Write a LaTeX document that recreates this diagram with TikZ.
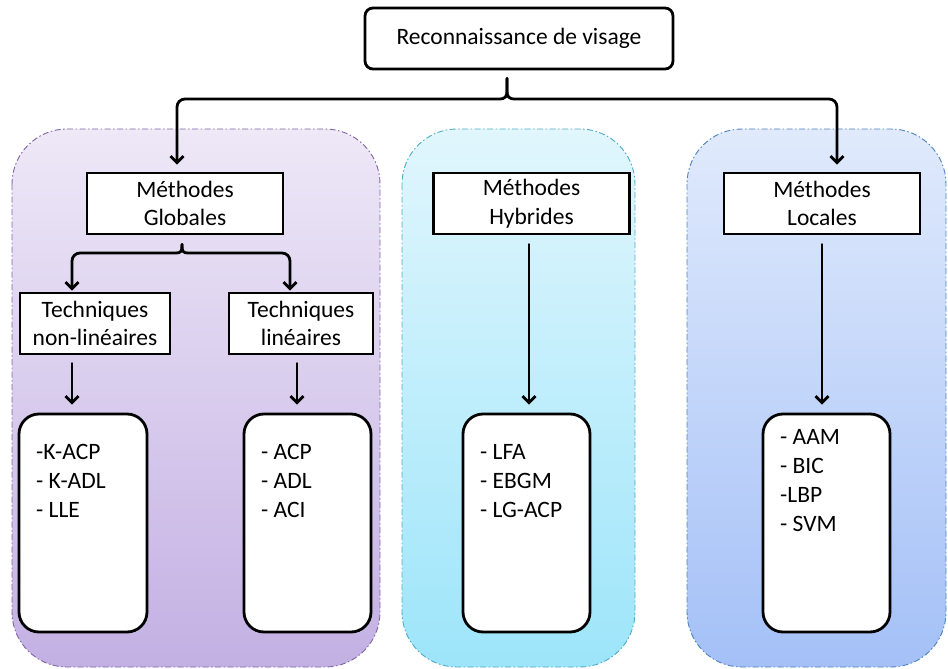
\documentclass[tikz,border=0pt]{standalone}
\usepackage{fontspec}
\setmainfont{Carlito}
\usetikzlibrary{arrows.meta,calc}
\definecolor{pTop}{HTML}{EEE8F7}
\definecolor{pBot}{HTML}{C3B0E3}
\definecolor{pEdge}{HTML}{8064A2}
\definecolor{cTop}{HTML}{E1F6FD}
\definecolor{cBot}{HTML}{9DE5FA}
\definecolor{cEdge}{HTML}{4BACC6}
\definecolor{bTop}{HTML}{E0EAFC}
\definecolor{bBot}{HTML}{A4C0F7}
\definecolor{bEdge}{HTML}{4F81BD}
\begin{document}
\begin{tikzpicture}[x=1pt,y=-1pt,
  font=\fontsize{23.5}{28.5}\selectfont,
  panel/.style={rounded corners=55pt, line width=0.9pt,
    dash pattern=on 6pt off 2.5pt on 1.5pt off 2.5pt},
  box/.style={draw=black, line width=2.8pt, fill=white, inner sep=0pt,
    minimum height=61pt, align=center},
  listbox/.style={draw=black, line width=2.8pt, fill=white, rounded corners=20pt,
    minimum width=127pt, minimum height=218pt},
  listtext/.style={anchor=base west, inner sep=0pt, font=\fontsize{23.5}{29}\selectfont},
  link/.style={line width=2.8pt, line cap=round, line join=round},
  arrowed/.style={-{Straight Barb[length=6.5pt,width=13pt]}},
]
\useasboundingbox (0,0) rectangle (948,669);

% background panels
\path[panel, top color=pTop, bottom color=pBot, draw=pEdge] (12,129) rectangle (380,667);
\path[panel, top color=cTop, bottom color=cBot, draw=cEdge] (402,129) rectangle (635,667);
\path[panel, top color=bTop, bottom color=bBot, draw=bEdge] (687,129) rectangle (946,667);

% boxes
\node[box, rounded corners=8pt, minimum width=308pt] (root) at (519,38.5) {Reconnaissance de visage};
\node[box, minimum width=196pt] (mg) at (185,203.5) {Méthodes\\Globales};
\node[box, minimum width=196pt] (mh) at (531.5,203.5) {Méthodes\\Hybrides};
\node[box, minimum width=196pt] (ml) at (822,203.5) {Méthodes\\Locales};
\node[box, minimum width=150pt] (tnl) at (95,323.5) {Techniques\\non-linéaires};
\node[box, minimum width=144pt] (tl) at (301,323.5) {Techniques\\linéaires};

\node[listbox, minimum width=128pt] (lnl) at (83,523) {};
\node[listbox] (ll) at (307.5,523) {};
\node[listbox] (lh) at (526.5,523) {};
\node[listbox] (lloc) at (826.5,523) {};

% list contents
\node[listtext] (tnlx) at (36,459) {\begin{tabular}[t]{@{}l@{}}-K-ACP\\- K-ADL\\- LLE\end{tabular}};
\node[listtext] (tlx) at (261,459) {\begin{tabular}[t]{@{}l@{}}- ACP\\- ADL\\- ACI\end{tabular}};
\node[listtext] (lhx) at (480,459) {\begin{tabular}[t]{@{}l@{}}- LFA\\- EBGM\\- LG-ACP\end{tabular}};
\node[listtext] (llocx) at (780,444) {\begin{tabular}[t]{@{}l@{}}- AAM\\- BIC\\-LBP\\- SVM\end{tabular}};

% brace under the root box
\coordinate (bt) at ($(root.south)+(-12,8)$);
\draw[link,arrowed] (bt) -- (507,89) .. controls (507,97) and (506,99) .. (498,99)
  [rounded corners=8pt] -| ($(mg.north)+(-8,-7)$);
\draw[link,arrowed] (bt) -- (507,89) .. controls (507,97) and (508,99) .. (516,99)
  [rounded corners=8pt] -| ($(ml.north)+(15,-7)$);

% split of the global methods
\coordinate (gs) at ($(mg.south)+(-3,9)$);
\draw[link,arrowed] (gs) -- (182,246) .. controls (182,251) and (181,253) .. (176,253)
  [rounded corners=8pt] -| ($(tnl.north)+(-23,-1)$);
\draw[link,arrowed] (gs) -- (182,246) .. controls (182,251) and (183,253) .. (188,253)
  [rounded corners=8pt] -| ($(tl.north)+(-11,-1)$);

% vertical arrows into the lists
\draw[link,arrowed] ($(tnl.south)+(-23,8)$) -- ($(lnl.north)+(-11,-8)$);
\draw[link,arrowed] ($(tl.south)+(-4,8)$) -- ($(ll.north)+(-10.5,-8)$);
\draw[link,arrowed] ($(mh.south)+(-2.5,9)$) -- ($(lh.north)+(2.5,-8)$);
\draw[link,arrowed] ($(ml.south)+(0,9)$) -- ($(lloc.north)+(-4.5,-8)$);
\end{tikzpicture}
\end{document}
